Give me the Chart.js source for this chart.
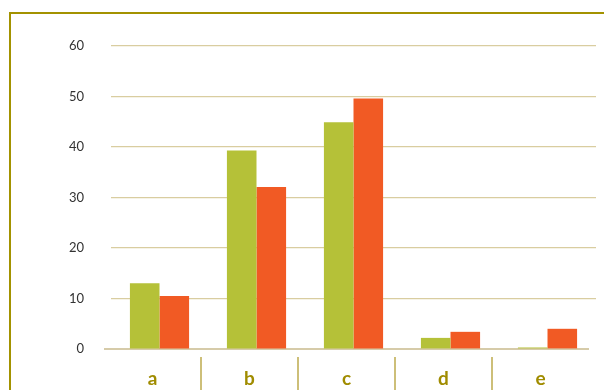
<!DOCTYPE html>
<html>
<head>
<meta charset="utf-8">
<script src="https://cdn.jsdelivr.net/npm/chart.js@4"></script>
<style>
  html, body { margin: 0; padding: 0; background: #fff; }
  #wrap { position: relative; width: 604px; height: 390px; }
  #frame {
    position: absolute; left: 9px; top: 12px; right: 0; bottom: -4px;
    border-left: 2px solid #A39200; border-top: 2px solid #A39200;
  }
  canvas { position: absolute; left: 0; top: 0; }
</style>
</head>
<body>
<div id="wrap">
  <div id="frame"></div>
  <canvas id="chart" width="604" height="390"></canvas>
</div>
<script>
const categories = ['a', 'b', 'c', 'd', 'e'];
const seriesGreen = [13, 39.3, 44.9, 2.2, 0.3];
const seriesOrange = [10.5, 32.1, 49.6, 3.4, 4.0];
const yTicks = [0, 10, 20, 30, 40, 50, 60];

// axis line and category separators sit a few px left of the plot, as in the original
const SHIFT = -7;

const axisDecor = {
  id: 'axisDecor',
  beforeDatasetsDraw(chart) {
    const area = chart.chartArea;
    const ctx = chart.ctx;
    ctx.save();
    // zero line, under the bars
    ctx.strokeStyle = '#D6CBA9';
    ctx.lineWidth = 2;
    ctx.beginPath();
    ctx.moveTo(area.left + SHIFT, area.bottom);
    ctx.lineTo(area.right + SHIFT, area.bottom);
    ctx.stroke();
    ctx.restore();
  },
  afterDraw(chart) {
    const x = chart.scales.x;
    const area = chart.chartArea;
    const ctx = chart.ctx;
    ctx.save();
    // separators between categories
    ctx.strokeStyle = '#BCAA4C';
    ctx.lineWidth = 1.5;
    for (let i = 0; i < categories.length - 1; i++) {
      const px = (x.getPixelForTick(i) + x.getPixelForTick(i + 1)) / 2 + SHIFT;
      ctx.beginPath();
      ctx.moveTo(px, area.bottom + 8);
      ctx.lineTo(px, chart.height);
      ctx.stroke();
    }
    ctx.restore();
  }
};

new Chart(document.getElementById('chart'), {
  type: 'bar',
  data: {
    labels: categories,
    datasets: [
      { data: seriesGreen, backgroundColor: '#B5C138' },
      { data: seriesOrange, backgroundColor: '#F15A24' }
    ]
  },
  options: {
    responsive: false,
    animation: false,
    layout: { padding: { top: 46, right: 8, left: 0, bottom: 0 } },
    datasets: { bar: { categoryPercentage: 0.61, barPercentage: 1 } },
    plugins: { legend: { display: false }, tooltip: { enabled: false } },
    scales: {
      x: {
        afterFit(scale) { scale.height = 41; },
        grid: { display: false },
        border: { display: false },
        ticks: {
          color: '#A08C00',
          padding: 10,
          labelOffset: SHIFT,
          font: { family: 'Lato', size: 19, weight: 'bold' }
        }
      },
      y: {
        min: 0,
        max: 60,
        afterFit(scale) { scale.width = 111; },
        afterBuildTicks(scale) { scale.ticks = yTicks.map(v => ({ value: v })); },
        border: { display: false },
        grid: {
          color: ctx => (ctx.tick && ctx.tick.value === 0 ? 'rgba(0,0,0,0)' : '#D9CDA0'),
          lineWidth: 1.2,
          drawTicks: false
        },
        ticks: {
          color: '#333',
          padding: 27,
          font: { family: 'Lato', size: 13 }
        }
      }
    }
  },
  plugins: [axisDecor]
});
</script>
</body>
</html>
